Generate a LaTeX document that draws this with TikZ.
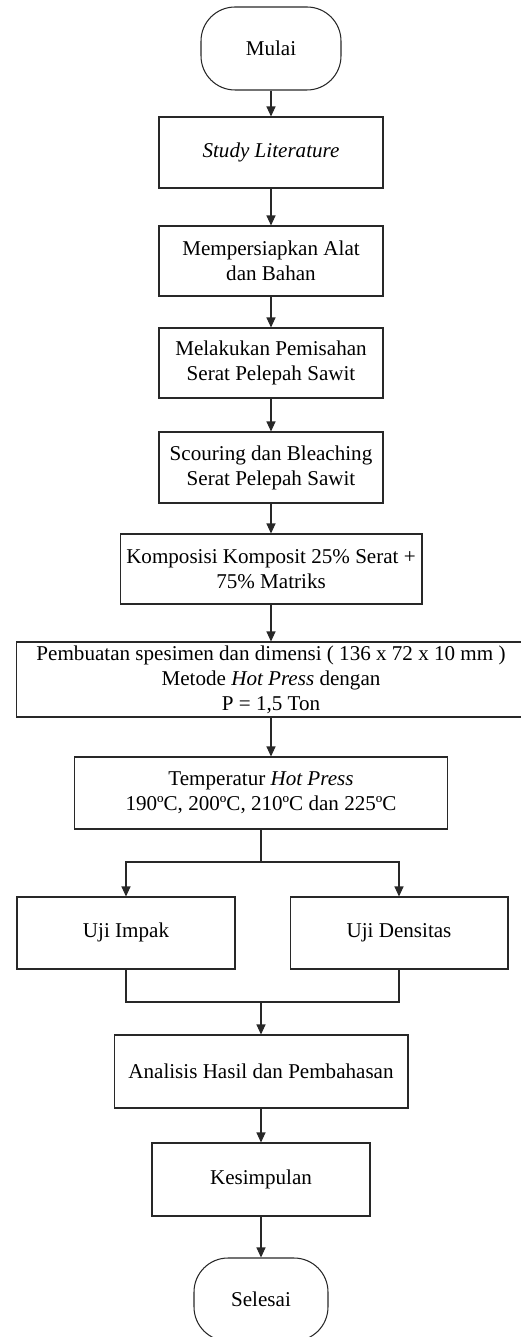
\documentclass[tikz,border=0pt]{standalone}
\usepackage{fontspec}
\setmainfont{Liberation Serif}
\usetikzlibrary{arrows.meta,positioning,calc}
\definecolor{Ink}{RGB}{40,40,40}
\tikzset{
  >=Triangle,
  box/.style={draw=Ink,line width=.6pt,fill=white,align=center,text=black,font=\fontsize{12}{14.2}\selectfont,inner sep=0pt},
  terminal/.style={box,rounded corners=.68cm},
  flow/.style={-{Triangle[length=.2cm,width=.18cm]},line width=.6pt,draw=Ink},
  link/.style={line width=.6pt,draw=Ink}
}
\begin{document}
\begin{tikzpicture}[x=.02cm,y=-.02cm]
  \useasboundingbox (0,0) rectangle (520,1337);
  \node[terminal,minimum width=2.8cm,minimum height=1.66cm] (mulai) at (271,48.5) {Mulai};
  \node[box,minimum width=4.48cm,minimum height=1.42cm] (study) at (271,152.5) {\textit{Study Literature}};
  \node[box,minimum width=4.48cm,minimum height=1.4cm] (siap) at (271,261) {Mempersiapkan Alat\\dan Bahan};
  \node[box,minimum width=4.48cm,minimum height=1.4cm] (pisah) at (271,363) {Melakukan Pemisahan\\Serat Pelepah Sawit};
  \node[box,minimum width=4.48cm,minimum height=1.42cm] (scour) at (271,467.5) {Scouring dan Bleaching\\Serat Pelepah Sawit};
  \node[box,minimum width=6.04cm,minimum height=1.4cm] (komp) at (271,569) {Komposisi Komposit 25\% Serat +\\75\% Matriks};
  \node[box,minimum width=10.2cm,minimum height=1.5cm] (buat) at (271,679.5) {Pembuatan spesimen dan dimensi ( 136 x 72 x 10 mm )\\Metode \textit{Hot Press} dengan\\P = 1,5 Ton};
  \node[box,minimum width=7.46cm,minimum height=1.44cm] (temp) at (261,793) {Temperatur \textit{Hot Press}\\190ºC, 200ºC, 210ºC dan 225ºC};
  \node[box,minimum width=4.36cm,minimum height=1.44cm] (impak) at (126,933) {\strut Uji Impak};
  \node[box,minimum width=4.36cm,minimum height=1.44cm] (dens) at (399,933) {\strut Uji Densitas};
  \node[box,minimum width=5.88cm,minimum height=1.46cm] (hasil) at (261,1071.5) {Analisis Hasil dan Pembahasan};
  \node[box,minimum width=4.36cm,minimum height=1.46cm] (simpul) at (261,1179.5) {Kesimpulan};
  \node[terminal,minimum width=2.68cm,minimum height=1.66cm] (selesai) at (261,1299.5) {Selesai};
  \coordinate (split) at (261,862);
  \coordinate (join) at (261,1002);
  \foreach \a/\b in {mulai/study,study/siap,siap/pisah,pisah/scour,scour/komp,komp/buat,hasil/simpul,simpul/selesai}
    \draw[flow] (\a)--(\b);
  \draw[flow] (buat.south)--(buat.south |- temp.north);
  \draw[link] (temp.south)--(split);
  \draw[flow] (split)-|(impak.north);
  \draw[flow] (split)-|(dens.north);
  \draw[link] (impak.south)|-(join);
  \draw[link] (dens.south)|-(join);
  \draw[flow] (join)--(hasil);
\end{tikzpicture}
\end{document}
